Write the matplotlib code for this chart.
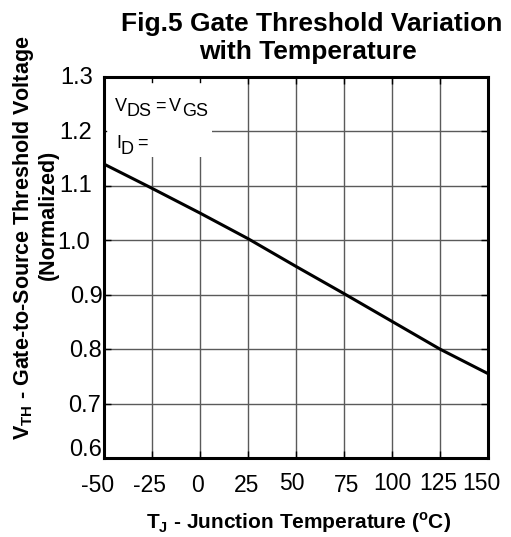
import matplotlib
matplotlib.use("Agg")
import matplotlib.pyplot as plt
from matplotlib.patches import Rectangle

plt.rcParams['font.family'] = ['Liberation Sans', 'DejaVu Sans']

# ===== DATA =====
temp_c = [-50, -27.5, 0, 25, 50, 75, 100, 125, 150]
vth_norm = [1.14, 1.10, 1.05, 1.003, 0.952, 0.902, 0.851, 0.800, 0.755]

x_ticks = [-50, -25, 0, 25, 50, 75, 100, 125, 150]
x_labels = ["-50", "-25", "0", "25", "50", "75", "100", "125", "150"]
y_ticks = [0.6, 0.7, 0.8, 0.9, 1.0, 1.1, 1.2, 1.3]
y_labels = ["0.6", "0.7", "0.8", "0.9", "1.0", "1.1", "1.2", "1.3"]

# hand placement of the tick labels (pixels), like the datasheet artwork
x_label_offsets = [(-6.5, -28), (-2, -28), (-3, -28), (-1, -28), (-4, -25),
                   (3, -28), (0.5, -26), (-1.5, -26), (-7, -26)]
y_label_offsets = [(-2, 8), (-3, -2), (-2, -2), (-1, -2), (-14, -3),
                   (-12, 0), (-12, -2), (-11, -1.5)]

W, H = 511, 537


def px(x, y):
    return x / W, 1 - y / H


# ===== FIGURE =====
fig = plt.figure(figsize=(W / 100, H / 100), dpi=100)
ax = fig.add_axes([104 / W, 1 - 458 / H, 384 / W, 381 / H])

ax.set_xlim(-50, 150)
ax.set_ylim(0.6, 1.3)
ax.set_xticks(x_ticks)
ax.set_yticks(y_ticks)
ax.set_xticklabels([])
ax.set_yticklabels([])
ax.tick_params(direction="in", length=5, width=1, top=True, right=True)

ax.grid(True, color="#5a5a5a", linewidth=1.0)
ax.set_axisbelow(True)

for sp in ax.spines.values():
    sp.set_linewidth(2.2)

ax.plot(temp_c, vth_norm, color="black", linewidth=2.2, zorder=3)

# white box behind the test conditions
ax.add_patch(Rectangle((-50, 1.153), 56, 0.147, facecolor="white",
                       edgecolor="none", zorder=1.5))
for xt in [-25, 0]:
    ax.plot([xt, xt], [1.3, 1.291], color="black", linewidth=1, zorder=2)
ax.plot([-50, -48.7], [1.2, 1.2], color="black", linewidth=1, zorder=2)

# test conditions, subscripts kept near full size
cond = [("V", 115, 111), ("DS", 127, 116), ("=", 155, 111), ("V", 169, 111),
        ("GS", 182, 116), ("I", 116, 148), ("D", 120, 154), ("=", 137, 148)]
for s, cx, cy in cond:
    fig.text(*px(cx, cy), s, fontsize=13, ha="left", va="baseline", zorder=4)

# tick labels
for xv, lab, off in zip(x_ticks, x_labels, x_label_offsets):
    ax.annotate(lab, xy=(xv, 0), xycoords=ax.get_xaxis_transform(),
                xytext=off, textcoords="offset pixels",
                ha="center", va="center", fontsize=16.5)
for yv, lab, off in zip(y_ticks, y_labels, y_label_offsets):
    ax.annotate(lab, xy=(0, yv), xycoords=ax.get_yaxis_transform(),
                xytext=off, textcoords="offset pixels",
                ha="right", va="center", fontsize=17)

# ===== TITLES =====
fig.text(*px(312, 24), "Fig.5 Gate Threshold Variation",
         ha="center", va="center", fontsize=19, fontweight="bold")
fig.text(*px(308, 52), "with Temperature",
         ha="center", va="center", fontsize=19, fontweight="bold")

fig.text(*px(299, 523),
         r"T$_{\mathregular{J}}$ - Junction Temperature ($^{\mathregular{o}}$C)",
         ha="center", va="center", fontsize=15, fontweight="bold")

fig.text(*px(24, 238),
         r"V$_{\mathregular{TH}}$ - Gate-to-Source Threshold Voltage",
         ha="center", va="center", rotation=90, fontsize=15.5, fontweight="bold")
fig.text(*px(48, 215), "(Normalized)",
         ha="center", va="center", rotation=90, fontsize=15.5, fontweight="bold")

fig.savefig("out.png", dpi=100)
